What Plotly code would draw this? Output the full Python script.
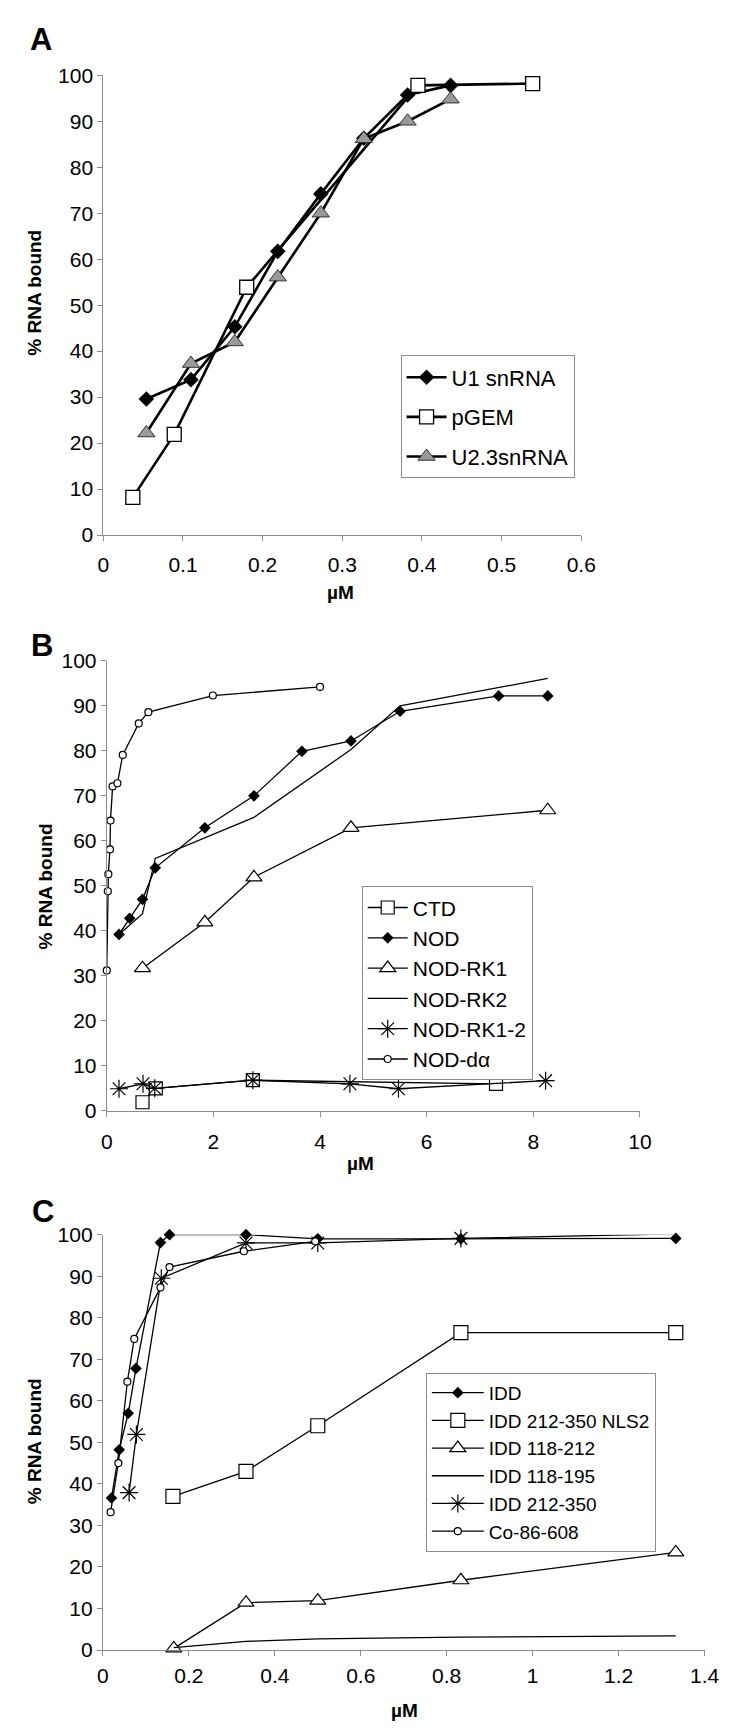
import plotly.graph_objects as go

W, H = 731, 1731
FONT = "Liberation Sans, Arial, sans-serif"

# ---------------- Panel A data ----------------
a_u1_x = [0.054, 0.110, 0.165, 0.219, 0.273, 0.327, 0.382, 0.436]
a_u1_y = [29.6, 33.8, 45.3, 61.7, 74.2, 86.3, 95.7, 97.8]
a_pgem_x = [0.037, 0.089, 0.180, 0.395, 0.539]
a_pgem_y = [8.2, 21.9, 53.9, 97.8, 98.2]
a_u23_x = [0.054, 0.110, 0.165, 0.219, 0.273, 0.327, 0.382, 0.436]
a_u23_y = [22.2, 37.3, 42.0, 56.1, 70.0, 86.2, 90.0, 94.8]

# ---------------- Panel B data ----------------
b_ctd_x = [0.67, 0.92, 2.74, 7.30]
b_ctd_y = [1.9, 5.0, 6.8, 6.0]
b_nod_x = [0.23, 0.43, 0.67, 0.91, 1.84, 2.76, 3.66, 4.58, 5.50, 7.35, 8.27]
b_nod_y = [39.2, 42.8, 47.0, 54.0, 62.9, 70.0, 79.9, 82.2, 88.8, 92.2, 92.2]
b_rk1_x = [0.67, 1.84, 2.76, 4.58, 8.27]
b_rk1_y = [31.7, 41.9, 51.9, 62.9, 66.8]
b_rk2_x = [0.23, 0.67, 0.91, 2.76, 4.58, 5.50, 8.27]
b_rk2_y = [39.2, 43.8, 56.1, 65.2, 80.3, 90.0, 96.1]
b_rk12_x = [0.23, 0.68, 0.90, 2.74, 4.56, 5.47, 8.23]
b_rk12_y = [4.9, 6.0, 5.0, 6.8, 6.0, 4.9, 6.7]
b_nodda_x = [0.0, 0.02, 0.03, 0.06, 0.07, 0.11, 0.20, 0.30, 0.60, 0.78, 1.99, 4.00]
b_nodda_y = [31.2, 48.8, 52.6, 58.1, 64.5, 72.1, 72.8, 79.1, 86.1, 88.6, 92.3, 94.2]

# ---------------- Panel C data ----------------
c_idd_x = [0.020, 0.038, 0.059, 0.077, 0.134, 0.155, 0.333, 0.500, 0.833, 1.333]
c_idd_y = [36.6, 48.2, 57.0, 67.8, 98.1, 100.0, 100.0, 99.0, 99.0, 99.1]
c_nls2_x = [0.163, 0.333, 0.500, 0.833, 1.333]
c_nls2_y = [37.0, 43.0, 54.0, 76.4, 76.4]
c_118212_x = [0.165, 0.333, 0.500, 0.833, 1.333]
c_118212_y = [0.4, 11.4, 11.9, 16.8, 23.5]
c_118195_x = [0.165, 0.333, 0.500, 0.833, 1.333]
c_118195_y = [0.6, 2.1, 2.7, 3.1, 3.4]
c_212350_x = [0.061, 0.078, 0.136, 0.333, 0.500, 0.833, 1.333]
c_212350_y = [37.9, 51.9, 89.5, 98.0, 98.0, 99.1, 100.2]
c_co_x = [0.018, 0.036, 0.057, 0.073, 0.134, 0.155, 0.328, 0.494]
c_co_y = [33.2, 45.0, 64.6, 74.9, 87.3, 92.2, 96.0, 98.4]


def fx(px):
    return px / W


def fy(py):
    return 1 - py / H


fig = go.Figure()

# Panel A traces
thick = dict(color="black", width=2.6)
fig.add_trace(go.Scatter(x=a_u1_x, y=a_u1_y, name="U1 snRNA", mode="lines+markers",
                         line=thick, marker=dict(symbol="diamond", size=12, color="black"),
                         xaxis="x", yaxis="y", legend="legend", legendgroup="a1", cliponaxis=False))
fig.add_trace(go.Scatter(x=a_pgem_x, y=a_pgem_y, name="pGEM", mode="lines+markers",
                         line=thick, marker=dict(symbol="square", size=14, color="white",
                                                 line=dict(color="black", width=1.3)),
                         xaxis="x", yaxis="y", legend="legend", legendgroup="a2", cliponaxis=False))
fig.add_trace(go.Scatter(x=a_u23_x, y=a_u23_y, name="U2.3snRNA", mode="lines+markers",
                         line=thick, marker=dict(symbol="triangle-up", size=15, color="#9a9a9a",
                                                 line=dict(color="#333333", width=1)),
                         xaxis="x", yaxis="y", legend="legend", legendgroup="a3", cliponaxis=False))

thin = dict(color="black", width=1.3)
# Panel B traces
fig.add_trace(go.Scatter(x=b_ctd_x, y=b_ctd_y, name="CTD", mode="lines+markers", line=thin,
                         marker=dict(symbol="square", size=13, color="white", line=dict(color="black", width=1.2)),
                         xaxis="x2", yaxis="y2", legend="legend2", cliponaxis=False))
fig.add_trace(go.Scatter(x=b_nod_x, y=b_nod_y, name="NOD", mode="lines+markers", line=thin,
                         marker=dict(symbol="diamond", size=9, color="black"),
                         xaxis="x2", yaxis="y2", legend="legend2", cliponaxis=False))
fig.add_trace(go.Scatter(x=b_rk1_x, y=b_rk1_y, name="NOD-RK1", mode="lines+markers", line=thin,
                         marker=dict(symbol="triangle-up", size=14, color="white", line=dict(color="black", width=1.2)),
                         xaxis="x2", yaxis="y2", legend="legend2", cliponaxis=False))
fig.add_trace(go.Scatter(x=b_rk2_x, y=b_rk2_y, name="NOD-RK2", mode="lines", line=thin,
                         xaxis="x2", yaxis="y2", legend="legend2", cliponaxis=False))
fig.add_trace(go.Scatter(x=b_rk12_x, y=b_rk12_y, name="NOD-RK1-2", mode="lines+markers", line=thin,
                         marker=dict(symbol="asterisk-open", size=15, color="black", line=dict(color="black", width=1.2)),
                         xaxis="x2", yaxis="y2", legend="legend2", cliponaxis=False))
fig.add_trace(go.Scatter(x=b_nodda_x, y=b_nodda_y, name="NOD-dα", mode="lines+markers", line=thin,
                         marker=dict(symbol="circle", size=7, color="white", line=dict(color="black", width=1.2)),
                         xaxis="x2", yaxis="y2", legend="legend2", cliponaxis=False))

# Panel C traces
fig.add_trace(go.Scatter(x=c_idd_x, y=c_idd_y, name="IDD", mode="lines+markers", line=thin,
                         marker=dict(symbol="diamond", size=9, color="black"),
                         xaxis="x3", yaxis="y3", legend="legend3", cliponaxis=False))
fig.add_trace(go.Scatter(x=c_nls2_x, y=c_nls2_y, name="IDD 212-350 NLS2", mode="lines+markers", line=thin,
                         marker=dict(symbol="square", size=14, color="white", line=dict(color="black", width=1.2)),
                         xaxis="x3", yaxis="y3", legend="legend3", cliponaxis=False))
fig.add_trace(go.Scatter(x=c_118212_x, y=c_118212_y, name="IDD 118-212", mode="lines+markers", line=thin,
                         marker=dict(symbol="triangle-up", size=14, color="white", line=dict(color="black", width=1.2)),
                         xaxis="x3", yaxis="y3", legend="legend3", cliponaxis=False))
fig.add_trace(go.Scatter(x=c_118195_x, y=c_118195_y, name="IDD 118-195", mode="lines", line=thin,
                         xaxis="x3", yaxis="y3", legend="legend3", cliponaxis=False))
fig.add_trace(go.Scatter(x=c_212350_x, y=c_212350_y, name="IDD 212-350", mode="lines+markers", line=thin,
                         marker=dict(symbol="asterisk-open", size=15, color="black", line=dict(color="black", width=1.2)),
                         xaxis="x3", yaxis="y3", legend="legend3", cliponaxis=False))
fig.add_trace(go.Scatter(x=c_co_x, y=c_co_y, name="Co-86-608", mode="lines+markers", line=thin,
                         marker=dict(symbol="circle", size=7, color="white", line=dict(color="black", width=1.2)),
                         xaxis="x3", yaxis="y3", legend="legend3", cliponaxis=False))

axis_common = dict(showgrid=False, zeroline=False, showline=True, linecolor="#8c8c8c", linewidth=1,
                   ticks="outside", ticklen=5, tickcolor="#8c8c8c", tickwidth=1,
                   tickfont=dict(family=FONT, size=21, color="black"), mirror=False)

fig.update_layout(
    width=W, height=H, margin=dict(l=0, r=0, t=0, b=0),
    paper_bgcolor="white", plot_bgcolor="white",
    font=dict(family=FONT, size=21, color="black"),
    xaxis=dict(domain=[fx(92), fx(584)], range=[0, 0.6], dtick=0.1, tick0=0, anchor="y",
               ticklabelstandoff=6, **axis_common),
    yaxis=dict(domain=[fy(522), fy(56)], range=[0, 100], dtick=10, tick0=0, anchor="x", **axis_common),
    xaxis2=dict(domain=[fx(95.5), fx(644.5)], range=[0, 10], dtick=2, tick0=0, anchor="y2",
                ticklabelstandoff=7, **axis_common),
    yaxis2=dict(domain=[fy(1105.5), fy(649.5)], range=[0, 100], dtick=10, tick0=0, anchor="x2", **axis_common),
    xaxis3=dict(domain=[fx(91.5), fx(711)], range=[0, 1.4], dtick=0.2, tick0=0, anchor="y3",
                ticklabelstandoff=2, **axis_common),
    yaxis3=dict(domain=[fy(1652), fy(1231)], range=[0, 100], dtick=10, tick0=0, anchor="x3", **axis_common),
    legend=dict(x=fx(398), y=fy(340), xanchor="left", yanchor="top", bgcolor="white",
                bordercolor="#8c8c8c", borderwidth=1, font=dict(family=FONT, size=22),
                traceorder="grouped", tracegroupgap=8, itemwidth=40),
    legend2=dict(x=fx(358), y=fy(878), xanchor="left", yanchor="top", bgcolor="white",
                 bordercolor="#8c8c8c", borderwidth=1, font=dict(family=FONT, size=21), itemwidth=40),
    legend3=dict(x=fx(424), y=fy(1371), xanchor="left", yanchor="top", bgcolor="white",
                 bordercolor="#8c8c8c", borderwidth=1, font=dict(family=FONT, size=19), itemwidth=52),
    showlegend=True,
)

ann = []
for txt, px, py in [("A", 28, 20), ("B", 29, 634), ("C", 30, 1208)]:
    ann.append(dict(text="<b>%s</b>" % txt, x=fx(px), y=fy(py), xref="paper", yref="paper",
                    showarrow=False, font=dict(family=FONT, size=31, color="black"),
                    xanchor="center", yanchor="middle"))
for px, py in [(21, 276), (32, 878), (21, 1440)]:
    ann.append(dict(text="<b>% RNA bound</b>", x=fx(px), y=fy(py), xref="paper", yref="paper",
                    showarrow=False, textangle=-90, font=dict(family=FONT, size=19, color="black"),
                    xanchor="center", yanchor="middle"))
for px, py in [(336, 580), (357, 1159), (402, 1713)]:
    ann.append(dict(text="<b>µM</b>", x=fx(px), y=fy(py), xref="paper", yref="paper",
                    showarrow=False, font=dict(family=FONT, size=19, color="black"),
                    xanchor="center", yanchor="middle"))
fig.update_layout(annotations=ann)

fig.write_html("out.html")
